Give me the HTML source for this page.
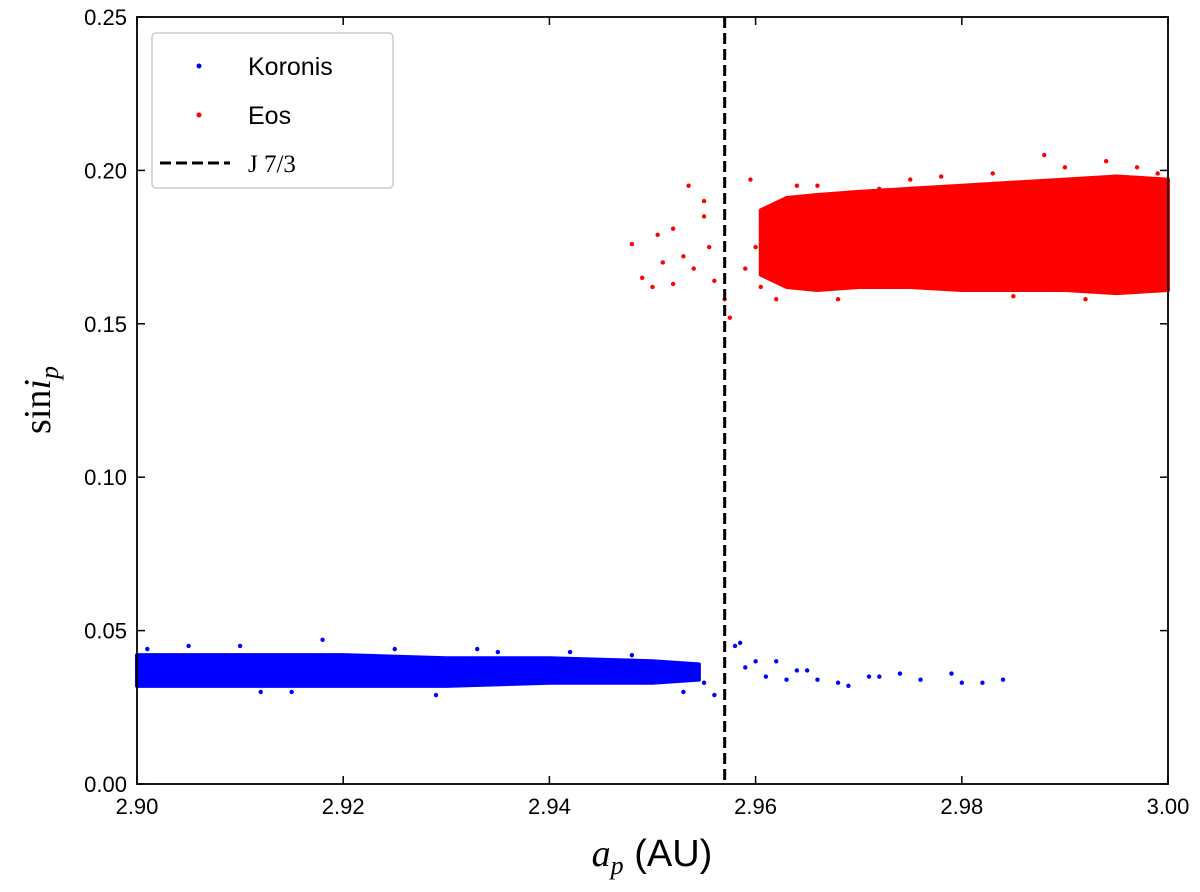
<!DOCTYPE html>
<html><head><meta charset="utf-8"><style>
html,body{margin:0;padding:0;background:#fff;}
svg{display:block;font-family:"Liberation Sans",sans-serif;}
</style></head><body>
<svg id="chart" width="1200" height="892">
<g id="plot"></g>
<g id="axes"></g>
</svg>
<script>
const xTicks=[2.90,2.92,2.94,2.96,2.98,3.00];
const xTickLabels=["2.90","2.92","2.94","2.96","2.98","3.00"];
const yTicks=[0,0.05,0.10,0.15,0.20,0.25];
const yTickLabels=["0.00","0.05","0.10","0.15","0.20","0.25"];
const resonanceX=2.957;
// dense-band envelopes: x, lower, upper
const eosEnvX=[2.9605,2.963,2.966,2.970,2.975,2.980,2.985,2.990,2.995,3.000];
const eosEnvLo=[0.166,0.162,0.161,0.162,0.162,0.161,0.161,0.161,0.160,0.161];
const eosEnvHi=[0.187,0.191,0.192,0.193,0.194,0.195,0.196,0.197,0.198,0.197];
const korEnvX=[2.900,2.910,2.920,2.930,2.940,2.950,2.9545];
const korEnvLo=[0.032,0.032,0.032,0.032,0.033,0.033,0.034];
const korEnvHi=[0.042,0.042,0.042,0.041,0.041,0.040,0.039];
// sparse / edge points
const eosX=[2.948,2.949,2.950,2.9505,2.951,2.952,2.952,2.953,2.9535,2.954,2.955,2.955,2.9555,2.956,2.957,2.9575,2.959,2.9595,2.960,2.9605,2.962,2.964,2.968,2.972,2.978,2.983,2.988,2.990,2.994,2.997,2.999,2.966,2.975,2.985,2.992];
const eosY=[0.176,0.165,0.162,0.179,0.170,0.181,0.163,0.172,0.195,0.168,0.185,0.190,0.175,0.164,0.158,0.152,0.168,0.197,0.175,0.162,0.158,0.195,0.158,0.194,0.198,0.199,0.205,0.201,0.203,0.201,0.199,0.195,0.197,0.159,0.158];
const korX=[2.955,2.956,2.958,2.9585,2.959,2.960,2.961,2.962,2.963,2.964,2.965,2.966,2.968,2.969,2.971,2.972,2.974,2.976,2.979,2.980,2.982,2.984,2.901,2.905,2.910,2.918,2.915,2.925,2.929,2.935,2.942,2.948,2.953,2.912,2.933];
const korY=[0.033,0.029,0.045,0.046,0.038,0.040,0.035,0.040,0.034,0.037,0.037,0.034,0.033,0.032,0.035,0.035,0.036,0.034,0.036,0.033,0.033,0.034,0.044,0.045,0.045,0.047,0.030,0.044,0.029,0.043,0.043,0.042,0.030,0.030,0.044];

const X0=137,X1=1168,Y0=784,Y1=17;
const sx=v=>X0+(v-2.90)/(0.10)*(X1-X0);
const sy=v=>Y0-(v/0.25)*(Y0-Y1);
const NS="http://www.w3.org/2000/svg";
function mk(tag,attrs,parent){const e=document.createElementNS(NS,tag);for(const k in attrs)e.setAttribute(k,attrs[k]);parent.appendChild(e);return e;}
const plot=document.getElementById('plot'),axes=document.getElementById('axes');

function band(xs,lo,hi,color,name){
  let pts=xs.map((x,i)=>sx(x)+','+sy(hi[i]));
  for(let i=xs.length-1;i>=0;i--)pts.push(sx(xs[i])+','+sy(lo[i]));
  const p=mk('polygon',{points:pts.join(' '),fill:color,stroke:color,'stroke-width':4,'stroke-linejoin':'round'},plot);
  
  
}
band(eosEnvX,eosEnvLo,eosEnvHi,'#ff0000','eos-dense-band');
band(korEnvX,korEnvLo,korEnvHi,'#0000ff','koronis-dense-band');
eosX.forEach((x,i)=>{const c=mk('circle',{cx:sx(x),cy:sy(eosY[i]),r:2.2,fill:'#ff0000'},plot);

});
korX.forEach((x,i)=>{const c=mk('circle',{cx:sx(x),cy:sy(korY[i]),r:2.2,fill:'#0000ff'},plot);

});
const rl=mk('line',{x1:sx(resonanceX),x2:sx(resonanceX),y1:Y1,y2:Y0,stroke:'#000','stroke-width':3,'stroke-dasharray':'11,5'},plot);



// frame
const fr=mk('rect',{x:X0,y:Y1,width:X1-X0,height:Y0-Y1,fill:'none',stroke:'#000','stroke-width':1.8},axes);


xTicks.forEach((t,i)=>{const x=sx(t);
  mk('line',{x1:x,x2:x,y1:Y0,y2:Y0-8,stroke:'#000','stroke-width':1.5},axes);
  mk('line',{x1:x,x2:x,y1:Y1,y2:Y1+8,stroke:'#000','stroke-width':1.5},axes);
  const tx=mk('text',{x:x,y:Y0+30,'text-anchor':'middle','font-size':22},axes);tx.textContent=xTickLabels[i];
  
  });
yTicks.forEach((t,i)=>{const y=sy(t);
  mk('line',{x1:X0,x2:X0+8,y1:y,y2:y,stroke:'#000','stroke-width':1.5},axes);
  mk('line',{x1:X1,x2:X1-8,y1:y,y2:y,stroke:'#000','stroke-width':1.5},axes);
  const tx=mk('text',{x:X0-10,y:y+8,'text-anchor':'end','font-size':22},axes);tx.textContent=yTickLabels[i];
  
  });
</script>
<svg width="0" height="0" style="position:absolute"></svg>
<script>
const s=document.getElementById('chart');
s.insertAdjacentHTML('beforeend',`
<text x="652" y="866" text-anchor="middle" font-size="38"><tspan font-family="Liberation Serif,serif" font-style="italic">a</tspan><tspan font-family="Liberation Serif,serif" font-style="italic" font-size="26" dy="8">p</tspan><tspan dy="-8"> (AU)</tspan></text>
<text transform="translate(50,400) rotate(-90)" text-anchor="middle" font-size="38" font-family="Liberation Serif,serif">sin<tspan font-style="italic">i</tspan><tspan font-style="italic" font-size="26" dy="8">p</tspan></text>
<g>
<rect x="152" y="33" width="241" height="155" rx="4" fill="#fff" stroke="#ccc" stroke-width="1.5"/>
<circle cx="199" cy="66" r="2.5" fill="#0000ff"/>
<text x="248" y="75" font-size="25">Koronis</text>
<circle cx="199" cy="115" r="2.5" fill="#ff0000"/>
<text x="248" y="124" font-size="25">Eos</text>
<line x1="160" x2="230" y1="163" y2="163" stroke="#000" stroke-width="3" stroke-dasharray="11,5"/>
<text x="248" y="172" font-size="25" font-family="Liberation Serif,serif">J 7/3</text>
</g>`);
</script>
</body></html>
